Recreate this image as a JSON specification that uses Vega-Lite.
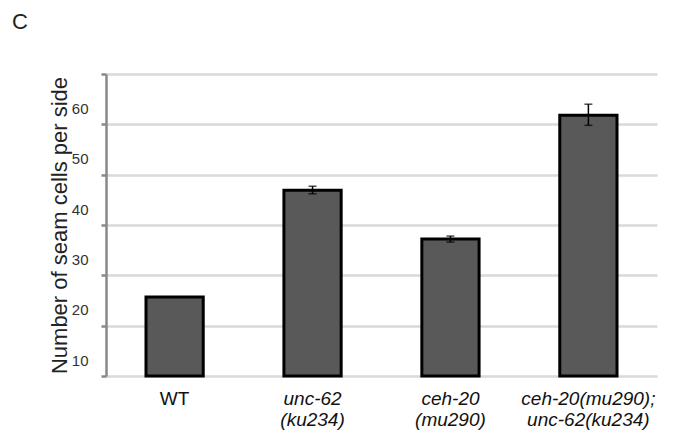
{
  "$schema": "https://vega.github.io/schema/vega-lite/v6.json",
  "width": 551,
  "height": 302,
  "autosize": "none",
  "padding": {"left": 106, "top": 74, "right": 20, "bottom": 58},
  "background": "white",
  "title": {
    "text": "C",
    "anchor": "start",
    "frame": "group",
    "dx": -94,
    "offset": 22,
    "baseline": "alphabetic",
    "fontSize": 22,
    "fontWeight": "normal",
    "font": "Liberation Sans",
    "color": "#222222"
  },
  "data": {
    "values": [
      {"strain": "WT", "mean": 25.7, "lower": null, "upper": null},
      {"strain": "unc-62 (ku234)", "mean": 46.9, "lower": 46.2, "upper": 47.7},
      {"strain": "ceh-20 (mu290)", "mean": 37.2, "lower": 36.6, "upper": 37.8},
      {"strain": "ceh-20(mu290); unc-62(ku234)", "mean": 61.8, "lower": 59.8, "upper": 64.0}
    ]
  },
  "encoding": {
    "x": {
      "field": "strain",
      "type": "nominal",
      "sort": null,
      "scale": {"paddingInner": 0.585, "paddingOuter": 0.29},
      "axis": {
        "title": null,
        "domain": false,
        "ticks": false,
        "labelAngle": 0,
        "labelExpr": "split(datum.label, ' ')",
        "labelFont": "Liberation Sans",
        "labelFontSize": 19,
        "labelLineHeight": 21,
        "labelColor": "#111111",
        "labelPadding": 13,
        "labelFontStyle": {"condition": {"test": "datum.value == 'WT'", "value": "normal"}, "value": "italic"}
      }
    }
  },
  "layer": [
    {
      "mark": {"type": "bar", "fill": "#595959", "stroke": "#000000", "strokeWidth": 3},
      "encoding": {
        "y": {
          "field": "mean",
          "type": "quantitative",
          "scale": {"domain": [10, 70], "nice": false, "zero": false},
          "axis": {
            "title": "Number of seam cells per side",
            "titleFont": "Liberation Sans",
            "titleFontSize": 22,
            "titleFontWeight": "normal",
            "titleColor": "#222222",
            "titlePadding": 0,
            "values": [10, 20, 30, 40, 50, 60, 70],
            "labelExpr": "datum.value >= 70 ? '' : datum.label",
            "labelOffset": -16,
            "labelFont": "Liberation Sans",
            "labelFontSize": 15,
            "labelColor": "#333333",
            "labelPadding": 13,
            "tickSize": 5,
            "tickColor": "#888888",
            "tickWidth": 2.5,
            "domainColor": "#888888",
            "domainWidth": 2.5,
            "grid": true,
            "gridColor": "#d9d9d9",
            "gridWidth": 2.5
          }
        },
        "y2": {"datum": 10}
      }
    },
    {
      "mark": {"type": "rule", "color": "#000000", "strokeWidth": 1.5},
      "encoding": {
        "y": {"field": "lower", "type": "quantitative"},
        "y2": {"field": "upper"}
      }
    },
    {
      "mark": {"type": "tick", "color": "#000000", "thickness": 1.5, "size": 8, "orient": "horizontal"},
      "encoding": {"y": {"field": "lower", "type": "quantitative"}}
    },
    {
      "mark": {"type": "tick", "color": "#000000", "thickness": 1.5, "size": 8, "orient": "horizontal"},
      "encoding": {"y": {"field": "upper", "type": "quantitative"}}
    }
  ],
  "config": {
    "view": {"stroke": null}
  }
}
